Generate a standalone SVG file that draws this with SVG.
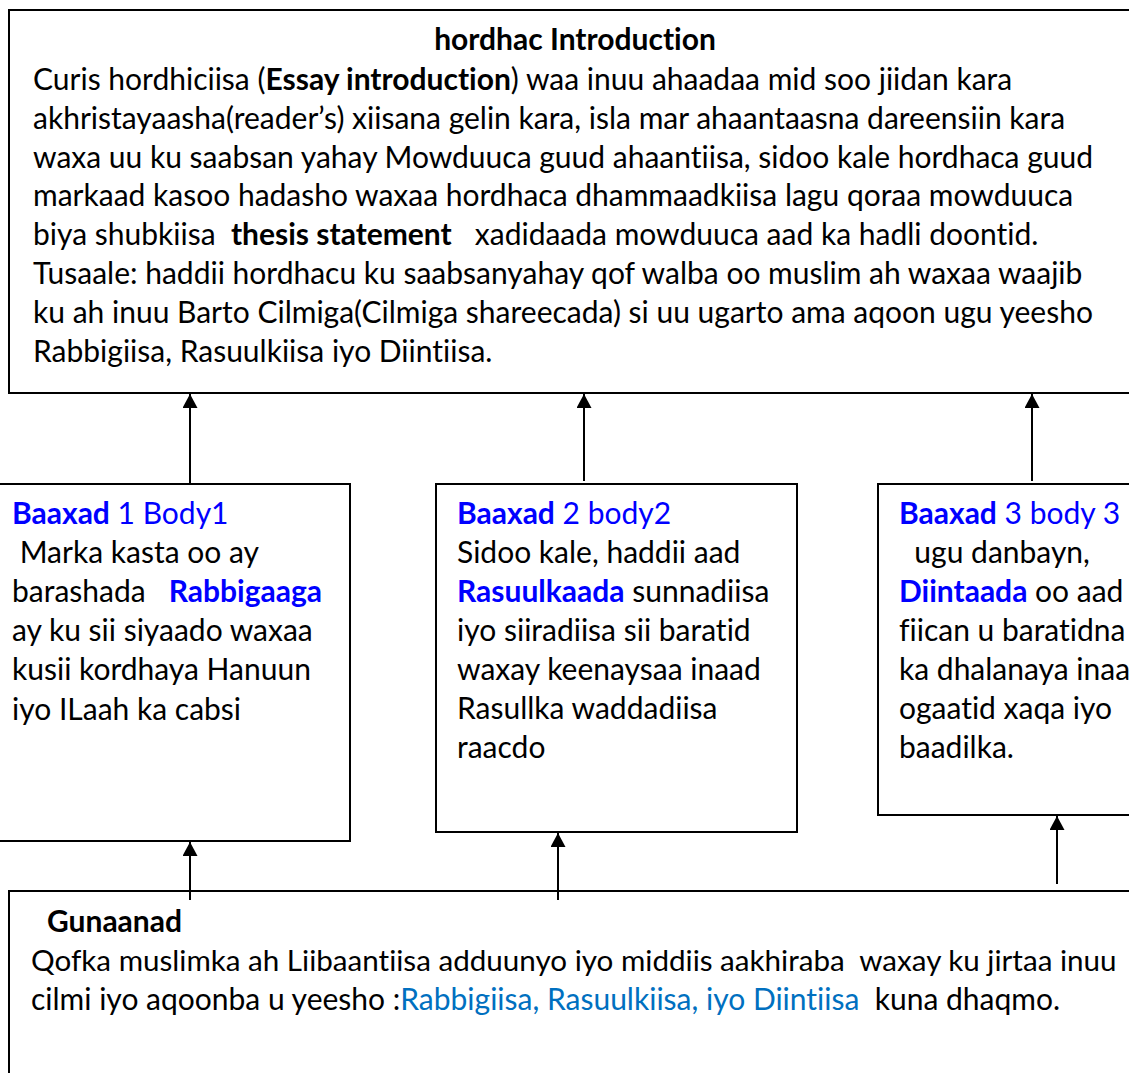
<svg xmlns="http://www.w3.org/2000/svg" width="1129" height="1073" viewBox="0 0 1129 1073">
<defs>
<style>
.box{fill:#fff;stroke:#000;stroke-width:2}
.t{font-family:Lato,"Open Sans","Liberation Sans",sans-serif;font-size:30px;fill:#000;white-space:pre;font-variant-ligatures:none}
.b{font-weight:bold}
.blue{fill:#0000ff}
.lblue{fill:#0070c0}
.c{stroke:#000;stroke-width:2;fill:none;marker-end:url(#ah)}
</style>
<marker id="ah" markerUnits="userSpaceOnUse" viewBox="0 0 14 15" refX="14" refY="7.5" markerWidth="14" markerHeight="15" orient="auto">
<path d="M0,0 L14,7.5 L0,15 z" fill="#000"/>
</marker>
</defs>
<rect width="1129" height="1073" fill="#fff"/>

<g id="intro">
<rect class="box" x="9" y="10" width="1140" height="383"/>
<text class="t b" x="575" y="50" text-anchor="middle">hordhac Introduction</text>
<text class="t" x="33" y="90">Curis hordhiciisa (<tspan class="b">Essay introduction</tspan>) waa inuu ahaadaa mid soo jiidan kara</text>
<text class="t" x="33" y="129">akhristayaasha(reader’s) xiisana gelin kara, isla mar ahaantaasna dareensiin kara</text>
<text class="t" x="33" y="168">waxa uu ku saabsan yahay Mowduuca guud ahaantiisa, sidoo kale hordhaca guud</text>
<text class="t" x="33" y="206">markaad kasoo hadasho waxaa hordhaca dhammaadkiisa lagu qoraa mowduuca</text>
<text class="t" x="33" y="245">biya shubkiisa  <tspan class="b">thesis statement</tspan>   xadidaada mowduuca aad ka hadli doontid.</text>
<text class="t" x="33" y="284">Tusaale: haddii hordhacu ku saabsanyahay qof walba oo muslim ah waxaa waajib</text>
<text class="t" x="33" y="323">ku ah inuu Barto Cilmiga(Cilmiga shareecada) si uu ugarto ama aqoon ugu yeesho</text>
<text class="t" x="33" y="362">Rabbigiisa, Rasuulkiisa iyo Diintiisa.</text>
</g>

<g id="body1">
<rect class="box" x="-5" y="484" width="355" height="357"/>
<text class="t blue" x="12" y="524"><tspan class="b">Baaxad</tspan> 1 Body1</text>
<text class="t" x="12" y="563"> Marka kasta oo ay</text>
<text class="t" x="12" y="602">barashada   <tspan class="b blue">Rabbigaaga</tspan></text>
<text class="t" x="12" y="641">ay ku sii siyaado waxaa</text>
<text class="t" x="12" y="680">kusii kordhaya Hanuun</text>
<text class="t" x="12" y="720">iyo ILaah ka cabsi</text>
</g>

<g id="body2">
<rect class="box" x="436" y="484" width="361" height="348"/>
<text class="t blue" x="457" y="524"><tspan class="b">Baaxad</tspan> 2 body2</text>
<text class="t" x="457" y="563">Sidoo kale, haddii aad</text>
<text class="t" x="457" y="602"><tspan class="b blue">Rasuulkaada</tspan> sunnadiisa</text>
<text class="t" x="457" y="641">iyo siiradiisa sii baratid</text>
<text class="t" x="457" y="680">waxay keenaysaa inaad</text>
<text class="t" x="457" y="719">Rasullka waddadiisa</text>
<text class="t" x="457" y="758">raacdo</text>
</g>

<g id="body3">
<rect class="box" x="878" y="484" width="300" height="331"/>
<text class="t blue" x="899" y="524"><tspan class="b">Baaxad</tspan> 3 body 3</text>
<text class="t" x="899" y="563">  ugu danbayn,</text>
<text class="t" x="899" y="602"><tspan class="b blue">Diintaada</tspan> oo aad</text>
<text class="t" x="899" y="641">fiican u baratidna</text>
<text class="t" x="899" y="680">ka dhalanaya inaa</text>
<text class="t" x="899" y="719">ogaatid xaqa iyo</text>
<text class="t" x="899" y="758">baadilka.</text>
</g>

<g id="conclusion">
<rect class="box" x="9" y="891" width="1140" height="200"/>
<text class="t b" x="47" y="932">Gunaanad</text>
<text class="t" x="31" y="971" style="font-size:29.6px">Qofka muslimka ah Liibaantiisa adduunyo iyo middiis aakhiraba  waxay ku jirtaa inuu</text>
<text class="t" x="31" y="1010">cilmi iyo aqoonba u yeesho :<tspan class="lblue">Rabbigiisa, Rasuulkiisa, iyo Diintiisa</tspan>  kuna dhaqmo.</text>
</g>

<g id="connectors">
<line class="c" x1="190" y1="484" x2="190" y2="394"/>
<line class="c" x1="584" y1="481" x2="584" y2="394"/>
<line class="c" x1="1032" y1="481" x2="1032" y2="394"/>
<line class="c" x1="190" y1="900" x2="190" y2="842"/>
<line class="c" x1="558" y1="900" x2="558" y2="833"/>
<line class="c" x1="1057" y1="884" x2="1057" y2="816"/>
</g>
</svg>
